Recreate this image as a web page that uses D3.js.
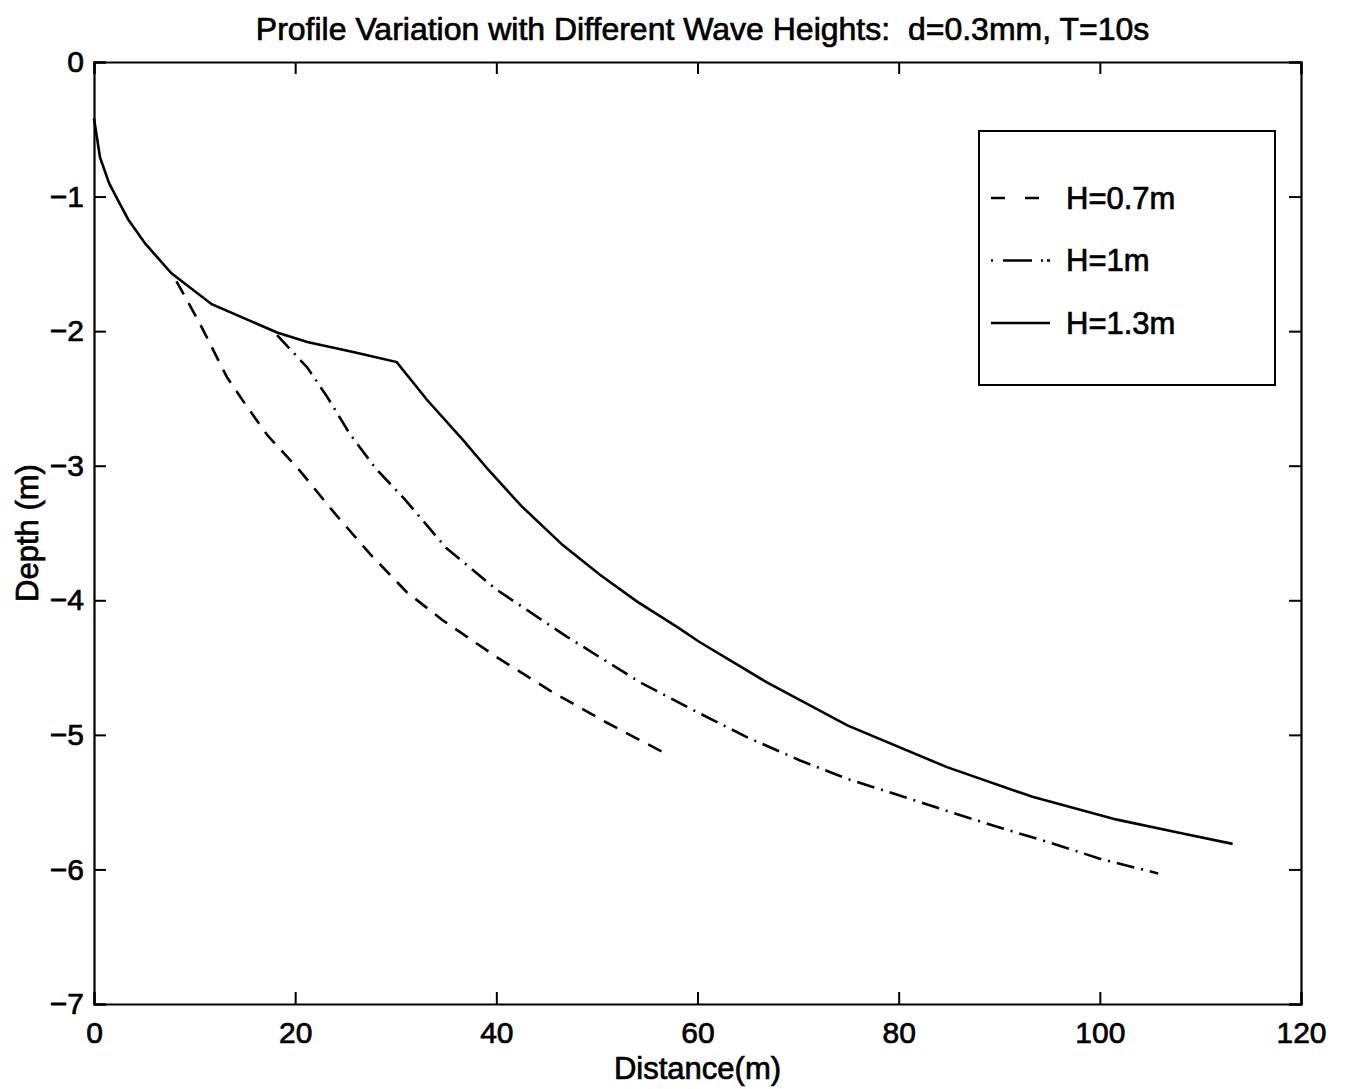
<!DOCTYPE html>
<html>
<head>
<meta charset="utf-8">
<script src="https://cdn.jsdelivr.net/npm/d3@7"></script>
<style>
  body { margin: 0; background: #fff; }
  text { font-family: "Liberation Sans", Arial, sans-serif; fill: #000; stroke: #000; stroke-width: 0.7px; white-space: pre; }
</style>
</head>
<body>
<div id="chart"></div>
<script>
// data
var xTicks = [0, 20, 40, 60, 80, 100, 120];
var yTicks = [0, -1, -2, -3, -4, -5, -6, -7];
var seriesNames = ["H=0.7m", "H=1m", "H=1.3m"];

var h07Dist  = [8.2, 10.5, 13.2, 15.2, 17.2, 20.5, 24, 27.5, 31.1, 34.7, 40, 45.3, 51, 57.1];
var h07Depth = [-1.63, -1.94, -2.34, -2.56, -2.77, -3.04, -3.36, -3.66, -3.94, -4.15, -4.42, -4.67, -4.91, -5.15];

var h10Dist  = [18.2, 21.2, 23.2, 25.4, 28, 30.9, 35, 40, 47, 54.3, 60.2, 65, 70.2, 75, 80.1, 85, 90.1, 95, 100, 105.8];
var h10Depth = [-2.03, -2.27, -2.49, -2.76, -3.02, -3.25, -3.61, -3.92, -4.27, -4.61, -4.84, -5.02, -5.19, -5.33, -5.45, -5.57, -5.69, -5.80, -5.92, -6.03];

var h13Dist  = [0, 0.6, 1.5, 2.4, 3.4, 5.1, 7.7, 11.7, 18.2, 21.2, 26.1, 30.1, 33.1, 36.7, 39.2, 42.5, 46.6, 50.3, 54, 58, 60.2, 66.9, 74.9, 84.8, 93.3, 101.7, 108, 113.2];
var h13Depth = [-0.42, -0.71, -0.90, -1.03, -1.17, -1.35, -1.57, -1.80, -2.01, -2.08, -2.16, -2.23, -2.51, -2.81, -3.03, -3.30, -3.59, -3.81, -4.01, -4.20, -4.31, -4.61, -4.93, -5.24, -5.46, -5.63, -5.73, -5.81];

var width = 1348, height = 1089;
var margin = {left: 94, right: 47, top: 62, bottom: 85};

var svg = d3.select("#chart").append("svg")
  .attr("width", width)
  .attr("height", height);

var x = d3.scaleLinear()
  .domain([0, 120])
  .range([margin.left, width - margin.right]);

var y = d3.scaleLinear()
  .domain([-7, 0])
  .range([height - margin.bottom, margin.top]);

// inward ticks on all four sides, matlab style
svg.append("g")
  .attr("transform", "translate(0," + y(-7) + ")")
  .call(d3.axisBottom(x).tickValues(xTicks).tickSize(-12).tickPadding(18).tickFormat(d3.format("d")))
  .call(function(g) { g.selectAll("text").attr("font-size", 30).attr("dy", "0.71em"); });

svg.append("g")
  .attr("transform", "translate(0," + y(0) + ")")
  .call(d3.axisTop(x).tickValues(xTicks).tickSize(-12).tickFormat(""));

svg.append("g")
  .attr("transform", "translate(" + x(0) + ",0)")
  .call(d3.axisLeft(y).tickValues(yTicks).tickSize(-12).tickPadding(10)
    .tickFormat(function(d) { return d === 0 ? "0" : "\u2212" + Math.abs(d); }))
  .call(function(g) { g.selectAll("text").attr("font-size", 30); });

svg.append("g")
  .attr("transform", "translate(" + x(120) + ",0)")
  .call(d3.axisRight(y).tickValues(yTicks).tickSize(-12).tickFormat(""));

svg.selectAll(".domain").attr("stroke-width", 2.2);
svg.selectAll(".tick line").attr("stroke-width", 2);

// title and axis labels
svg.append("text")
  .attr("x", (x(0) + x(120)) / 2 + 5)
  .attr("y", 40)
  .attr("text-anchor", "middle")
  .attr("font-size", 32)
  .text("Profile Variation with Different Wave Heights:  d=0.3mm, T=10s");

svg.append("text")
  .attr("x", (x(0) + x(120)) / 2)
  .attr("y", 1079)
  .attr("text-anchor", "middle")
  .attr("font-size", 31)
  .text("Distance(m)");

svg.append("text")
  .attr("transform", "translate(38," + ((y(0) + y(-7)) / 2) + ")rotate(-90)")
  .attr("text-anchor", "middle")
  .attr("font-size", 31)
  .text("Depth (m)");

// the three profiles
var styles = ["15,10", "18,7,2,7", null];
var series = [
  d3.zip(h07Dist, h07Depth),
  d3.zip(h10Dist, h10Depth),
  d3.zip(h13Dist, h13Depth)
];

var line = d3.line()
  .x(function(d) { return x(d[0]); })
  .y(function(d) { return y(d[1]); });

svg.append("g")
  .selectAll("path")
  .data(series)
  .enter().append("path")
  .attr("d", line)
  .attr("fill", "none")
  .attr("stroke", "#000")
  .attr("stroke-width", 2.6)
  .attr("stroke-dasharray", function(d, i) { return styles[i]; });

// legend box
var legend = svg.append("g");

legend.append("rect")
  .attr("x", 979)
  .attr("y", 131)
  .attr("width", 296)
  .attr("height", 254)
  .attr("fill", "#fff")
  .attr("stroke", "#000")
  .attr("stroke-width", 2);

var legendDash = ["14,20", "2,10,29,9,2,4,4", null];
var legendLen = [49, 59, 59];

var legendRows = legend.selectAll("g.row")
  .data(seriesNames)
  .enter().append("g")
  .attr("class", "row")
  .attr("transform", function(d, i) { return "translate(991," + (198 + i * 62.5) + ")"; });

legendRows.append("line")
  .attr("x1", 0)
  .attr("x2", function(d, i) { return legendLen[i]; })
  .attr("stroke", "#000")
  .attr("stroke-width", 2.4)
  .attr("stroke-dasharray", function(d, i) { return legendDash[i]; });

legendRows.append("text")
  .attr("x", 75)
  .attr("dy", "0.35em")
  .attr("font-size", 31)
  .text(function(d) { return d; });
</script>
</body>
</html>
